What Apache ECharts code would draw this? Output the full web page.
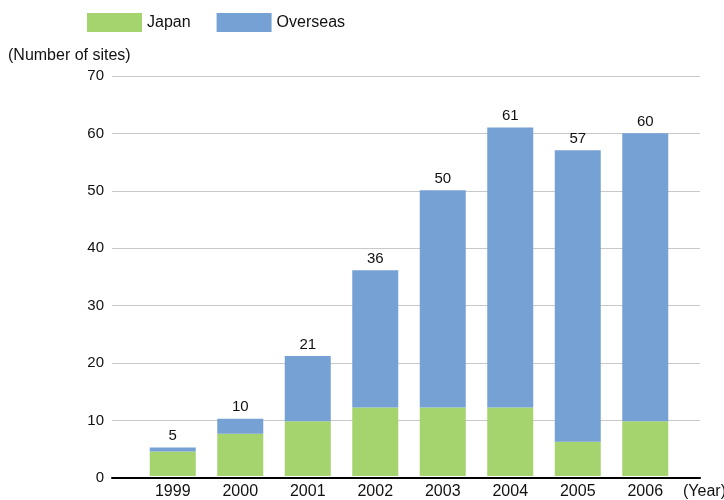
<!DOCTYPE html>
<html><head><meta charset="utf-8">
<script src="https://cdn.jsdelivr.net/npm/echarts@6/dist/echarts.min.js"></script>
<style>html,body{margin:0;padding:0;background:#fff}#c{width:724px;height:500px}</style>
</head><body><div id="c"></div>
<script>
var years = ['1999','2000','2001','2002','2003','2004','2005','2006'];
var totals = [5, 10, 21, 36, 50, 61, 57, 60];
var japan = [4.3, 7.4, 9.6, 12, 12, 12, 6, 9.6];
var overseas = totals.map(function(t,i){return +(t - japan[i]).toFixed(1);});
var yTicks = [0,10,20,30,40,50,60,70];

var FONT = '"Liberation Sans", Arial, sans-serif';
var chart = echarts.init(document.getElementById('c'));
chart.setOption({
  animation: false,
  textStyle: {fontFamily: FONT},
  legend: {
    left: 87, top: 13, padding: 0, itemWidth: 55, itemHeight: 19, itemGap: 26, icon: 'rect',
    textStyle: {fontSize: 16, color: '#111', fontFamily: FONT},
    data: ['Japan','Overseas']
  },
  grid: [
    {left: 139, right: 45, top: 76, bottom: 22},
    {left: 112, right: 24, top: 76, bottom: 22}
  ],
  xAxis: [
    {type: 'category', gridIndex: 0, data: years,
     axisLine: {show: false}, axisTick: {show: false},
     axisLabel: {fontSize: 16, color: '#111', margin: 8, fontFamily: FONT}},
    {type: 'category', gridIndex: 1, data: [''],
     axisLine: {show: true, lineStyle: {color: '#000', width: 2}},
     axisTick: {show: false}, axisLabel: {show: false}}
  ],
  yAxis: [
    {type: 'value', gridIndex: 0, min: 0, max: 70, interval: 10, show: false},
    {type: 'value', gridIndex: 1, min: 0, max: 70, interval: 10,
     axisLine: {show: false}, axisTick: {show: false},
     axisLabel: {fontSize: 15, color: '#111', margin: 8, fontFamily: FONT},
     splitLine: {lineStyle: {color: '#c8c8c8', width: 1}}}
  ],
  series: [
    {name: 'Japan', type: 'bar', stack: 's', xAxisIndex: 0, yAxisIndex: 0,
     barWidth: 46, data: japan, itemStyle: {color: '#a5d46e'}},
    {name: 'Overseas', type: 'bar', stack: 's', xAxisIndex: 0, yAxisIndex: 0,
     barWidth: 46, data: overseas, itemStyle: {color: '#76a1d4'},
     label: {show: true, position: 'top', distance: 4, fontSize: 15, color: '#111', fontFamily: FONT,
       formatter: function(p){return totals[p.dataIndex];}}}
  ],
  graphic: [
    {type: 'text', left: 8, top: 48, style: {text: '(Number of sites)', fill: '#111', font: '16px ' + FONT}},
    {type: 'text', left: 683, top: 484, style: {text: '(Year)', fill: '#111', font: '16px ' + FONT}}
  ]
});
</script></body></html>
